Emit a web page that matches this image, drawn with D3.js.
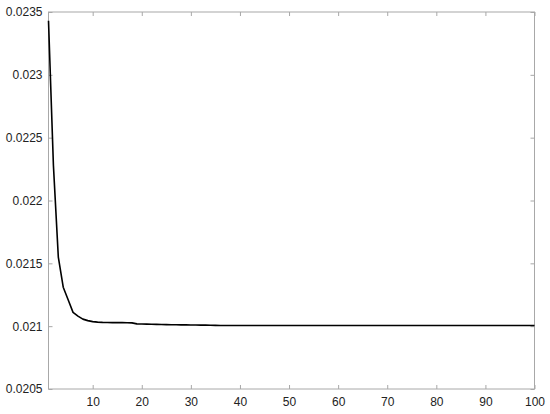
<!DOCTYPE html>
<html>
<head>
<meta charset="utf-8">
<script src="https://cdn.jsdelivr.net/npm/d3@7"></script>
<style>
body { margin: 0; background: #fff; }
svg { display: block; }
.tick text { font-family: "Liberation Sans", Arial, sans-serif; font-size: 12px; fill: #222; }
</style>
</head>
<body>
<svg width="550" height="414"></svg>
<script>
// error per iteration
var iters = d3.range(1, 101);
var errVals = [
  0.02343, 0.02228, 0.02155, 0.02131, 0.02121, 0.02111, 0.02108, 0.021056, 0.021044, 0.021036,
  0.021032, 0.02103, 0.021029, 0.021028, 0.021028, 0.021028, 0.021027, 0.021026, 0.021018, 0.021017,
  0.021016, 0.021015, 0.021014, 0.021013, 0.021012, 0.021011, 0.021011, 0.02101, 0.02101, 0.021009,
  0.021009, 0.021008, 0.021008, 0.021007, 0.021006, 0.021005, 0.021005, 0.021005, 0.021005, 0.021005,
  0.021005, 0.021005, 0.021005, 0.021005, 0.021005, 0.021005, 0.021005, 0.021005, 0.021005, 0.021005,
  0.021005, 0.021005, 0.021005, 0.021005, 0.021005, 0.021005, 0.021005, 0.021005, 0.021005, 0.021005,
  0.021005, 0.021005, 0.021005, 0.021005, 0.021005, 0.021005, 0.021005, 0.021005, 0.021005, 0.021005,
  0.021005, 0.021005, 0.021005, 0.021005, 0.021005, 0.021005, 0.021005, 0.021005, 0.021005, 0.021005,
  0.021005, 0.021005, 0.021005, 0.021005, 0.021005, 0.021005, 0.021005, 0.021005, 0.021005, 0.021005,
  0.021005, 0.021005, 0.021005, 0.021005, 0.021005, 0.021005, 0.021005, 0.021005, 0.021005, 0.021005
];
var xTicks = [10, 20, 30, 40, 50, 60, 70, 80, 90, 100];
var yTicks = [0.0205, 0.021, 0.0215, 0.022, 0.0225, 0.023, 0.0235];
var yLabels = ["0.0205", "0.021", "0.0215", "0.022", "0.0225", "0.023", "0.0235"];

var padL = 48.5, padR = 534.5, padT = 12, padB = 389;
var axisCol = "#a8a8a8";

var svg = d3.select("svg");

var x = d3.scaleLinear().domain([1, 100]).range([padL, padR]);
var y = d3.scaleLinear().domain([0.0205, 0.0235]).range([padB, padT]);

// box
svg.append("rect")
  .attr("x", padL).attr("y", padT)
  .attr("width", padR - padL).attr("height", padB - padT)
  .attr("fill", "none").attr("stroke", axisCol).attr("stroke-width", 1);

function styleAxis(g) {
  g.select(".domain").remove();
  g.selectAll(".tick line").attr("stroke", axisCol);
}

svg.append("g")
  .attr("transform", "translate(0," + padB + ")")
  .call(d3.axisBottom(x).tickValues(xTicks).tickSizeInner(-4).tickPadding(8))
  .call(styleAxis);

svg.append("g")
  .attr("transform", "translate(0," + padT + ")")
  .call(d3.axisTop(x).tickValues(xTicks).tickSizeInner(-4).tickFormat(""))
  .call(styleAxis);

svg.append("g")
  .attr("transform", "translate(" + padL + ",0)")
  .call(d3.axisLeft(y).tickValues(yTicks).tickSizeInner(-4).tickPadding(6)
    .tickFormat(function(d, i) { return yLabels[i]; }))
  .call(styleAxis);

svg.append("g")
  .attr("transform", "translate(" + padR + ",0)")
  .call(d3.axisRight(y).tickValues(yTicks).tickSizeInner(-4).tickFormat(""))
  .call(styleAxis);

svg.selectAll(".tick text").attr("fill", "#222");

var line = d3.line()
  .x(function(d, i) { return x(iters[i]); })
  .y(function(d) { return y(d); });

svg.append("path")
  .datum(errVals)
  .attr("fill", "none")
  .attr("stroke", "#000")
  .attr("stroke-width", 1.6)
  .attr("stroke-linejoin", "round")
  .attr("d", line);
</script>
</body>
</html>
